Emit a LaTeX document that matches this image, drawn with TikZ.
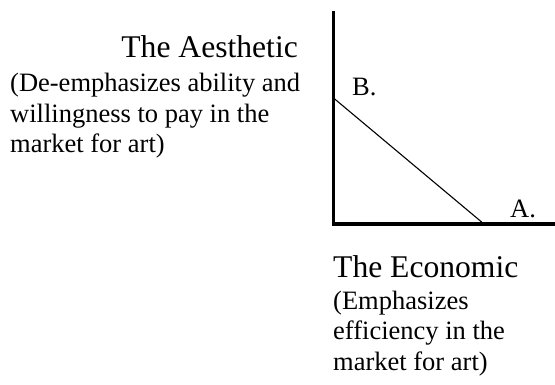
\documentclass[tikz,border=0pt]{standalone}
\usepackage{fontspec}
\setmainfont{Liberation Serif}
\definecolor{AxisClr}{rgb}{0,0,0}
\tikzset{
  axisline/.style={line width=3.6pt,color=AxisClr},
  tradeline/.style={line width=1.1pt,color=black},
  headtext/.style={inner sep=0pt,font=\fontsize{31.6}{36}\selectfont},
  bodytext/.style={inner sep=0pt,align=left,font=\fontsize{26.5}{30.5}\selectfont},
  pointlbl/.style={inner sep=0pt,font=\fontsize{26.5}{30.5}\selectfont}
}

\begin{document}
\begin{tikzpicture}[x=1pt,y=-1pt]
\useasboundingbox (0,0) rectangle (555,385);

% axes
\coordinate (O) at (333.5,224);
\coordinate (Ytop) at (333.5,11.5);
\coordinate (Xend) at (555,224);
\coordinate (B) at (333.5,98);
\coordinate (A) at (484,224);

\draw[axisline] (Ytop) -- (O) -- (Xend);
\draw[tradeline] (B) -- (A);

\node[pointlbl,anchor=base west] (lblB) at (352,96) {B.};
\node[pointlbl,anchor=base west] (lblA) at (510,218) {A.};

% the aesthetic (base = last line)
\node[headtext,anchor=base east] (aesth) at (298,58) {The Aesthetic};
\node[bodytext,anchor=base west] (aesthtxt) at (10,153)
  {(De-emphasizes ability and\\willingness to pay in the\\market for art)};

% the economic
\node[headtext,anchor=base west] (econ) at (333,278) {The Economic};
\node[bodytext,anchor=base west] (econtxt) at (333,370)
  {(Emphasizes\\efficiency in the\\market for art)};

\end{tikzpicture}
\end{document}
